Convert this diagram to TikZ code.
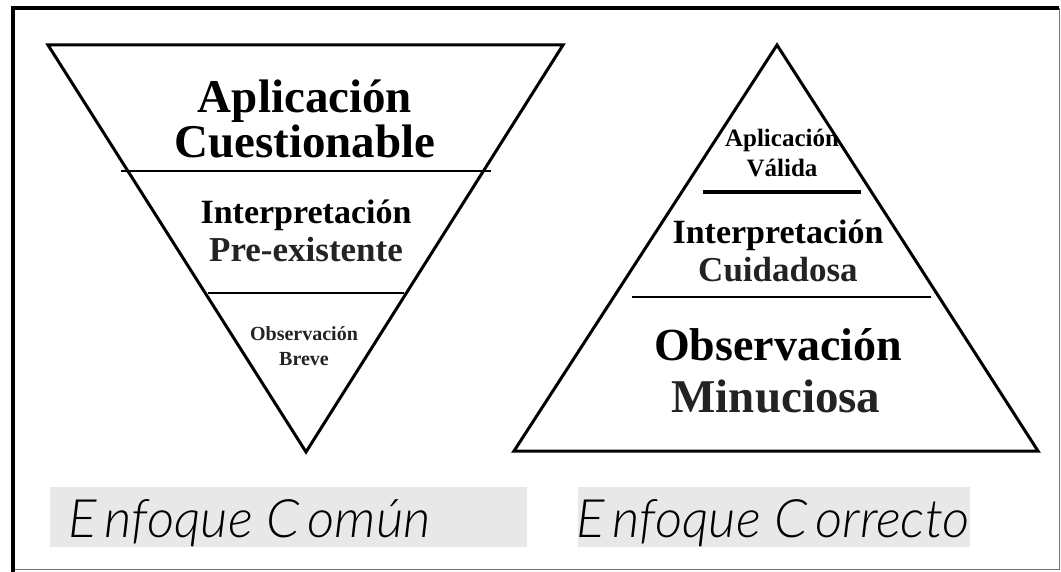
\documentclass[tikz,border=0pt]{standalone}
\usepackage{fontspec}
\setmainfont{Liberation Serif}
\newfontfamily\labelfont{Lato Light}[ItalicFont={Lato Light Italic}]
\usetikzlibrary{backgrounds}
\definecolor{boxgray}{RGB}{232,232,232}
\definecolor{softblack}{RGB}{35,35,35}

\begin{document}
\begin{tikzpicture}[x=1pt,y=-1pt,
    layer/.style={font=\bfseries, anchor=base, inner sep=0pt},
    edge/.style={line width=3pt, line join=miter},
    band/.style={line width=1.6pt},
    tag/.style={font=\labelfont\itshape\fontsize{53}{53}\selectfont, anchor=base west, inner sep=0pt}]
\useasboundingbox (0,0) rectangle (1061,572);

% frame
\draw[black!55, line width=1pt] (1059,8) -- (1059,569) -- (13,569);
\draw[line width=4pt] (13,572) -- (13,8) -- (1059,8);

% common approach (inverted)
\draw[edge] (48,45) -- (563,45) -- (306,452) -- cycle;
\draw[band] (121,171) -- (491,171);
\draw[band] (208,293) -- (404,293);

% correct approach
\draw[edge] (777,45) -- (1038,451) -- (514,451) -- cycle;
\draw[line width=4pt] (703,192) -- (861,192);
\draw[band] (632,297) -- (931,297);

\foreach \txt/\x/\y/\s/\c [count=\i] in {
    Aplicación/305/113/47/black, Cuestionable/305/158/47/black,
    Interpretación/306/224/34/black, Pre-existente/306/262/35/softblack,
    Observación/304/341/20/softblack, Breve/304/365/20/softblack,
    Aplicación/782/147/25/black, Válida/782/177/25/black,
    Interpretación/778/244/34/black, Cuidadosa/778/282/35/softblack,
    Observación/778/360/46/black, Minuciosa/776/412/47/softblack} {%
    \node[layer, text=\c, font=\bfseries\fontsize{\s}{\s}\selectfont] (word\i) at (\x,\y) {\txt};
}

% captions
\begin{scope}[on background layer]
\fill[boxgray] (50,487) rectangle (527,547);
\fill[boxgray] (578,487) rectangle (970,547);
\end{scope}
\node[tag] (common) at (68,537) {E\kern8pt nfoque C\kern8pt omún};
\node[tag] (correct) at (576,537) {E\kern8pt nfoque C\kern8pt orrecto};
\end{tikzpicture}
\end{document}
